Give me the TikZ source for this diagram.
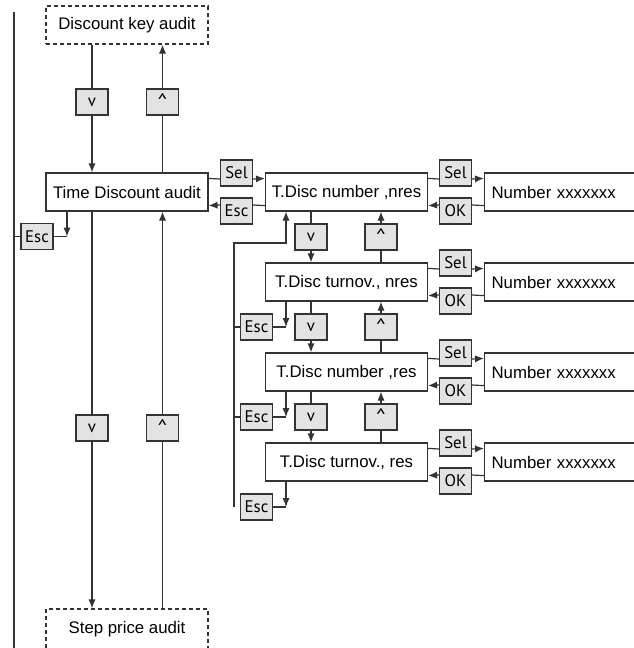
\documentclass[tikz,border=0pt]{standalone}
\usepackage{fontspec}
\setmainfont{Liberation Sans}
\newfontfamily\keyfont{PT Sans}
\usetikzlibrary{arrows.meta,positioning}
\definecolor{tdink}{HTML}{333333}
\definecolor{tdkey}{HTML}{E3E3E3}
\newcommand{\upkey}{\raisebox{0.5pt}{\fontsize{10.5}{10.5}\selectfont\textasciicircum}}
\tikzset{
  menu/.style={draw=tdink, fill=white, line width=0.6pt, minimum width=81pt, minimum height=19pt, inner sep=1pt, font=\fontsize{8.4}{10}\selectfont},
  ext/.style={menu, dash pattern=on 2pt off 1.5pt},
  num/.style={menu, anchor=west, text width=100pt, align=left, inner sep=3.5pt},
  key/.style={draw=tdink, fill=tdkey, line width=0.6pt, minimum width=16pt, minimum height=13pt, inner sep=0pt, font=\keyfont\fontsize{8.4}{10}\selectfont},
  ln/.style={line width=0.6pt, color=tdink},
  arr/.style={-{Latex[length=4.5pt,width=3.6pt]}, line width=0.6pt, color=tdink},
}

\begin{document}
\begin{tikzpicture}[x=0.5pt, y=-0.5pt]
    \useasboundingbox (0,0) rectangle (633,648);
    % main column
    \node[ext] (dka) at (127,25) {Discount key audit};
    \node[menu] (tda) at (127,192) {Time Discount audit};
    \node[ext, minimum height=20pt] (spa) at (127,629) {Step price audit};
    \node[key] (dn0) at (92,102) {v};  \node[key] (up0) at (162.5,102) {\upkey};
    \node[key] (dn9) at (92,428) {v};  \node[key] (up9) at (162.5,428) {\upkey};
    \node[key] (esc0) at (37,236.5) {Esc};
    \node[key] (sel0) at (236.5,173) {Sel};  \node[key] (back0) at (236.5,211) {Esc};
    \coordinate (rt) at (14,12); \coordinate (rb) at (14,648); \coordinate (c0) at (67,236.5);
    % submenu
    \node[menu] (r1) at (346.5,192) {T.Disc number ,nres};
    \node[menu] (r2) at (346.5,282) {T.Disc turnov., nres};
    \node[menu] (r3) at (346.5,372) {T.Disc number ,res};
    \node[menu] (r4) at (346.5,462) {T.Disc turnov., res};
    \node[key] (s1) at (455.5,173) {Sel};  \node[key] (o1) at (455.5,211) {OK};
    \node[key] (s2) at (455.5,263) {Sel};  \node[key] (o2) at (455.5,301) {OK};
    \node[key] (s3) at (455.5,353) {Sel};  \node[key] (o3) at (455.5,391) {OK};
    \node[key] (s4) at (455.5,443) {Sel};  \node[key] (o4) at (455.5,481) {OK};
    \node[num] (n1) at (484,192) {Number xxxxxxx};
    \node[num] (n2) at (484,282) {Number xxxxxxx};
    \node[num] (n3) at (484,372) {Number xxxxxxx};
    \node[num] (n4) at (484,462) {Number xxxxxxx};
    \node[key] (d1) at (311,237) {v};  \node[key] (u1) at (381,237) {\upkey};
    \node[key] (d2) at (311,327) {v};  \node[key] (u2) at (381,327) {\upkey};
    \node[key] (d3) at (311,417) {v};  \node[key] (u3) at (381,417) {\upkey};
    \node[key] (e2) at (256.5,327) {Esc};
    \node[key] (e3) at (256.5,417) {Esc};
    \node[key] (e4) at (256.5,507) {Esc};
    \coordinate (lp) at (234,243); \coordinate (lq) at (286,243);
    \coordinate (k2) at (286,327); \coordinate (k3) at (286,417); \coordinate (k4) at (286,507);
    % main column links
    \draw[ln] (rt) -- (rb);
    \draw[ln] (dka.south -| dn0) -- (dn0); \draw[arr] (dn0) -- (tda.north -| dn0);
    \draw[ln] (tda.north -| up0) -- (up0); \draw[arr] (up0) -- (dka.south -| up0);
    \draw[ln] (tda.south -| dn9) -- (dn9); \draw[arr] (dn9) -- (spa.north -| dn9);
    \draw[ln] (spa.north -| up9) -- (up9); \draw[arr] (up9) -- (tda.south -| up9);
    \draw[arr] (tda.south -| c0) -- (c0); \draw[ln] (c0) -- (esc0); \draw[ln] (esc0) -- (esc0 -| rt);
    \draw[ln] ([yshift=-3pt]tda.north east) -- ([yshift=-3pt]sel0.west); \draw[arr] ([yshift=-3pt]sel0.east) -- ([yshift=-3pt]r1.north west);
    \draw[ln] ([yshift=3pt]r1.south west) -- ([yshift=3pt]back0.east); \draw[arr] ([yshift=3pt]back0.west) -- ([yshift=3pt]tda.south east);
    % submenu links
    \draw[ln] ([yshift=-3pt]r1.north east) -- ([yshift=-3pt]s1.west); \draw[arr] ([yshift=-3pt]s1.east) -- ([yshift=-3pt]n1.north west);
    \draw[ln] ([yshift=3pt]n1.south west) -- ([yshift=3pt]o1.east); \draw[arr] ([yshift=3pt]o1.west) -- ([yshift=3pt]r1.south east);
    \draw[ln] ([yshift=-3pt]r2.north east) -- ([yshift=-3pt]s2.west); \draw[arr] ([yshift=-3pt]s2.east) -- ([yshift=-3pt]n2.north west);
    \draw[ln] ([yshift=3pt]n2.south west) -- ([yshift=3pt]o2.east); \draw[arr] ([yshift=3pt]o2.west) -- ([yshift=3pt]r2.south east);
    \draw[ln] ([yshift=-3pt]r3.north east) -- ([yshift=-3pt]s3.west); \draw[arr] ([yshift=-3pt]s3.east) -- ([yshift=-3pt]n3.north west);
    \draw[ln] ([yshift=3pt]n3.south west) -- ([yshift=3pt]o3.east); \draw[arr] ([yshift=3pt]o3.west) -- ([yshift=3pt]r3.south east);
    \draw[ln] ([yshift=-3pt]r4.north east) -- ([yshift=-3pt]s4.west); \draw[arr] ([yshift=-3pt]s4.east) -- ([yshift=-3pt]n4.north west);
    \draw[ln] ([yshift=3pt]n4.south west) -- ([yshift=3pt]o4.east); \draw[arr] ([yshift=3pt]o4.west) -- ([yshift=3pt]r4.south east);
    \draw[ln] (r1.south -| d1) -- (d1); \draw[arr] (d1) -- (r2.north -| d1);
    \draw[ln] (r2.north -| u1) -- (u1); \draw[arr] (u1) -- (r1.south -| u1);
    \draw[ln] (r2.south -| d2) -- (d2); \draw[arr] (d2) -- (r3.north -| d2);
    \draw[ln] (r3.north -| u2) -- (u2); \draw[arr] (u2) -- (r2.south -| u2);
    \draw[ln] (r3.south -| d3) -- (d3); \draw[arr] (d3) -- (r4.north -| d3);
    \draw[ln] (r4.north -| u3) -- (u3); \draw[arr] (u3) -- (r3.south -| u3);
    % escape back to first entry
    \draw[arr] (r2.south -| k2) -- (k2); \draw[ln] (k2) -- (e2); \draw[ln] (e2) -- (e2 -| lp);
    \draw[arr] (r3.south -| k3) -- (k3); \draw[ln] (k3) -- (e3); \draw[ln] (e3) -- (e3 -| lp);
    \draw[arr] (r4.south -| k4) -- (k4); \draw[ln] (k4) -- (e4);
    \draw[arr] (e4 -| lp) -- (lp) -- (lq) -- (r1.south -| lq);
  \end{tikzpicture}
\end{document}
